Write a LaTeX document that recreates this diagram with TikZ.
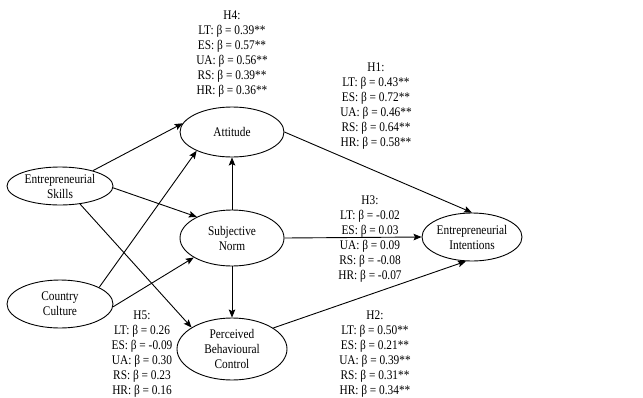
\documentclass[tikz,border=0pt]{standalone}
\usepackage{fontspec}
\setmainfont{Liberation Serif}[FakeStretch=0.86]
\usetikzlibrary{shapes.geometric,arrows.meta}
\begin{document}
\begin{tikzpicture}[x=1pt,y=-1pt,
  ell/.style={draw,ellipse,inner sep=0pt,line width=0.9pt},
  txt/.style={align=center,font=\fontsize{13.2}{15}\selectfont,inner sep=0pt},
  arr/.style={-{Stealth[length=8pt,width=6.5pt,inset=1.5pt]},line width=0.9pt}]
\useasboundingbox (0,0) rectangle (643,397);
% ellipses
\node[ell,minimum width=104,minimum height=50] (att) at (232,132) {};
\node[ell,minimum width=106,minimum height=38] (es) at (60,186) {};
\node[ell,minimum width=104,minimum height=56] (sn) at (232,238) {};
\node[ell,minimum width=106,minimum height=48] (cc) at (60,304) {};
\node[ell,minimum width=110,minimum height=62] (pbc) at (232,349) {};
\node[ell,minimum width=100,minimum height=48] (ei) at (472,237) {};
% ellipse texts
\node[txt] (attT) at (att) {Attitude};
\node[txt] (esT) at (es) {Entrepreneurial\\Skills};
\node[txt] (snT) at (sn) {Subjective\\Norm};
\node[txt] (ccT) at (cc) {Country\\Culture};
\node[txt] (pbcT) at (pbc) {Perceived\\Behavioural\\Control};
\node[txt] (eiT) at (ei) {Entrepreneurial\\Intentions};
% arrows
\draw[arr] (es.25) -- (att.170);
\draw[arr] (cc.23) -- (att.208);
\draw[arr] (es.-2) -- (sn.149);
\draw[arr] (es.318) -- (pbc.152);
\draw[arr] (cc.-3) -- (sn.207);
\draw[arr] (sn.north) -- (att.south);
\draw[arr] (sn.south) -- (pbc.north);
\draw[arr] (att.0) -- (ei.90);
\draw[arr] (sn.east) -- (ei.west);
\draw[arr] (pbc.27) -- (ei.256);
% labels
\node[txt] (h4) at (232,54) {H4:\\LT: β = 0.39**\\ES: β = 0.57**\\UA: β = 0.56**\\RS: β = 0.39**\\HR: β = 0.36**};
\node[txt] (h1) at (376,106) {H1:\\LT: β = 0.43**\\ES: β = 0.72**\\UA: β = 0.46**\\RS: β = 0.64**\\HR: β = 0.58**};
\node[txt] (h3) at (370,239) {H3:\\LT: β = -0.02\\ES: β = 0.03\\UA: β = 0.09\\RS: β = -0.08\\HR: β = -0.07};
\node[txt] (h5) at (142,354) {H5:\\LT: β = 0.26\\ES: β = -0.09\\UA: β = 0.30\\RS: β = 0.23\\HR: β = 0.16};
\node[txt] (h2) at (375,354) {H2:\\LT: β = 0.50**\\ES: β = 0.21**\\UA: β = 0.39**\\RS: β = 0.31**\\HR: β = 0.34**};
\end{tikzpicture}
\end{document}
